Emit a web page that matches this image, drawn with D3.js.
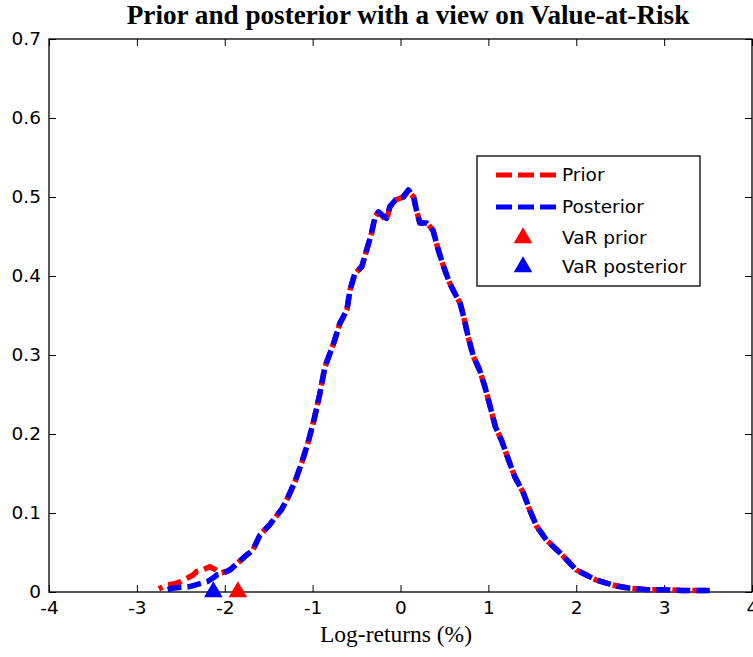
<!DOCTYPE html>
<html>
<head>
<meta charset="utf-8">
<script src="https://cdn.jsdelivr.net/npm/d3@7"></script>
<style>
  html, body { margin: 0; padding: 0; background: #fff; }
  svg { display: block; }
</style>
</head>
<body>
<svg id="chart" width="753" height="657"></svg>
<script>
// ---------- data ----------
const titleText = "Prior and posterior with a view on Value-at-Risk";
const xLabelText = "Log-returns (%)";
const xTickValues = [-4, -3, -2, -1, 0, 1, 2, 3, 4];
const xTickLabels = ["-4", "-3", "-2", "-1", "0", "1", "2", "3", "4"];
const yTickValues = [0, 0.1, 0.2, 0.3, 0.4, 0.5, 0.6, 0.7];
const yTickLabels = ["0", "0.1", "0.2", "0.3", "0.4", "0.5", "0.6", "0.7"];

// left tails (differ between prior and posterior)
const priorTailX = [-2.75, -2.66, -2.58, -2.5, -2.42, -2.36, -2.32, -2.25, -2.17, -2.1, -2.05, -1.98];
const priorTailY = [0.004, 0.009, 0.010, 0.013, 0.018, 0.0215, 0.026, 0.028, 0.032, 0.028, 0.024, 0.026];
const postTailX  = [-2.65, -2.59, -2.5, -2.4, -2.3, -2.2, -2.13, -2.09, -2.03, -1.98];
const postTailY  = [0.003, 0.0047, 0.006, 0.0067, 0.010, 0.013, 0.018, 0.0215, 0.023, 0.026];

// common body of the density (prior and posterior overlap)
const bodyX = [-1.94, -1.86, -1.77, -1.68, -1.6, -1.49, -1.42, -1.35, -1.28, -1.2, -1.12, -1.05, -0.98, -0.92, -0.86,
  -0.76, -0.69, -0.61, -0.575, -0.52, -0.44, -0.385, -0.33, -0.29, -0.25, -0.16, -0.12, -0.06, 0.03, 0.09, 0.15,
  0.18, 0.22, 0.3, 0.37, 0.43, 0.49, 0.56, 0.6, 0.68, 0.72, 0.77, 0.83, 0.9, 0.96, 1.02, 1.08, 1.15, 1.23, 1.3,
  1.4, 1.47, 1.55, 1.66, 1.82, 2.0, 2.23, 2.46, 2.61, 2.8, 3.0, 3.2, 3.4, 3.52];
const priorBodyY = [0.028, 0.036, 0.045, 0.053, 0.072, 0.085, 0.095, 0.105, 0.12, 0.14, 0.165, 0.19, 0.22, 0.25, 0.285,
  0.315, 0.34, 0.357, 0.382, 0.403, 0.412, 0.433, 0.454, 0.475, 0.481, 0.47, 0.488, 0.496, 0.5, 0.507, 0.5,
  0.484, 0.467, 0.467, 0.458, 0.433, 0.412, 0.391, 0.382, 0.365, 0.348, 0.323, 0.298, 0.281, 0.26, 0.235, 0.209, 0.192, 0.167, 0.146,
  0.125, 0.104, 0.083, 0.066, 0.049, 0.028, 0.015, 0.0076, 0.0047, 0.003, 0.003, 0.002, 0.002, 0.002];
const postBodyY = [0.028, 0.036, 0.045, 0.053, 0.072, 0.085, 0.095, 0.105, 0.12, 0.14, 0.165, 0.19, 0.22, 0.25, 0.285,
  0.315, 0.34, 0.357, 0.382, 0.403, 0.412, 0.433, 0.454, 0.475, 0.481, 0.473, 0.488, 0.496, 0.5, 0.509, 0.5,
  0.484, 0.467, 0.467, 0.458, 0.433, 0.412, 0.391, 0.382, 0.365, 0.348, 0.323, 0.298, 0.281, 0.26, 0.235, 0.209, 0.192, 0.167, 0.146,
  0.125, 0.104, 0.083, 0.066, 0.049, 0.028, 0.015, 0.0076, 0.0047, 0.003, 0.003, 0.002, 0.002, 0.002];

const varPrior = -1.85;
const varPosterior = -2.13;

const seriesNames = ["Prior", "Posterior", "VaR prior", "VaR posterior"];
const seriesColors = ["#ff0000", "#0000ff", "#ff0000", "#0000ff"];

// ---------- layout ----------
const svg = d3.select("#chart");
const L = 49, R = 752, T = 39, B = 592;
const x = d3.scaleLinear().domain([-4, 4]).range([L, R]);
const y = d3.scaleLinear().domain([0, 0.7]).range([B, T]);
const tickFont = "DejaVu Sans, sans-serif";
const tickSize = 18.5;

// axes
const gx = svg.append("g").attr("transform", `translate(0,${B})`)
  .call(d3.axisBottom(x).tickValues(xTickValues).tickFormat((d, i) => xTickLabels[i])
    .tickSizeInner(-7).tickSizeOuter(0).tickPadding(9));
const gy = svg.append("g").attr("transform", `translate(${L},0)`)
  .call(d3.axisLeft(y).tickValues(yTickValues).tickFormat((d, i) => yTickLabels[i])
    .tickSizeInner(-7).tickSizeOuter(0).tickPadding(8));
const gt = svg.append("g").attr("transform", `translate(0,${T})`)
  .call(d3.axisTop(x).tickValues(xTickValues).tickFormat("").tickSizeInner(-7).tickSizeOuter(0));
const gr = svg.append("g").attr("transform", `translate(${R},0)`)
  .call(d3.axisRight(y).tickValues(yTickValues).tickFormat("").tickSizeInner(-7).tickSizeOuter(0));
[gx, gy, gt, gr].forEach(g => {
  g.selectAll("path.domain").remove();
  g.selectAll("line").attr("stroke", "#000").attr("stroke-width", 1);
  g.selectAll("text").attr("font-family", tickFont).attr("font-size", tickSize).attr("fill", "#000");
});
svg.append("rect").attr("x", L).attr("y", T).attr("width", R - L).attr("height", B - T)
  .attr("fill", "none").attr("stroke", "#000").attr("stroke-width", 1.3);

// lines
const line = d3.line().x(d => x(d[0])).y(d => y(d[1]));
const priorPts = priorTailX.map((v, i) => [v, priorTailY[i]]).concat(bodyX.map((v, i) => [v, priorBodyY[i]]));
const postPts = postTailX.map((v, i) => [v, postTailY[i]]).concat(bodyX.map((v, i) => [v, postBodyY[i]]));

svg.append("path").attr("d", line(priorPts)).attr("fill", "none")
  .attr("stroke", seriesColors[0]).attr("stroke-width", 5.5)
  .attr("stroke-dasharray", "14,6").attr("stroke-dashoffset", 10).attr("stroke-linejoin", "round");
svg.append("path").attr("d", line(postPts)).attr("fill", "none")
  .attr("stroke", seriesColors[1]).attr("stroke-width", 5.5)
  .attr("stroke-dasharray", "14,6").attr("stroke-linejoin", "round");

// VaR markers
const tri = d3.symbol().type(d3.symbolTriangle).size(150);
svg.append("path").attr("d", tri()).attr("transform", `translate(${x(varPrior)},${y(0)})`).attr("fill", seriesColors[2]);
svg.append("path").attr("d", tri()).attr("transform", `translate(${x(varPosterior)},${y(0)})`).attr("fill", seriesColors[3]);

// legend
const lg = svg.append("g");
lg.append("rect").attr("x", 477).attr("y", 156).attr("width", 223).attr("height", 130)
  .attr("fill", "#fff").attr("stroke", "#000").attr("stroke-width", 1.3);
const rowsY = [175, 207, 238, 267];
seriesNames.forEach((name, i) => {
  if (i < 2) {
    lg.append("line").attr("x1", 496).attr("x2", 558).attr("y1", rowsY[i]).attr("y2", rowsY[i])
      .attr("stroke", seriesColors[i]).attr("stroke-width", 5).attr("stroke-dasharray", "16,6");
  } else {
    lg.append("path").attr("d", tri()).attr("transform", `translate(523,${rowsY[i]})`).attr("fill", seriesColors[i]);
  }
  lg.append("text").attr("x", 562).attr("y", rowsY[i]).attr("dy", "0.35em")
    .attr("font-family", tickFont).attr("font-size", tickSize).attr("fill", "#000").text(name);
});

// title & x label (font size fitted to target width)
function fitText(sel, target) {
  const w = sel.node().getComputedTextLength();
  const fs = parseFloat(sel.attr("font-size"));
  sel.attr("font-size", fs * target / w);
}
const title = svg.append("text").attr("x", 408).attr("y", 24).attr("text-anchor", "middle")
  .attr("font-family", "Liberation Serif, Times New Roman, serif").attr("font-weight", "bold")
  .attr("font-size", 20).text(titleText);
fitText(title, 563);
const xl = svg.append("text").attr("x", 396).attr("y", 642).attr("text-anchor", "middle")
  .attr("font-family", "Liberation Serif, Times New Roman, serif")
  .attr("font-size", 18).text(xLabelText);
fitText(xl, 152);
</script>
</body>
</html>
